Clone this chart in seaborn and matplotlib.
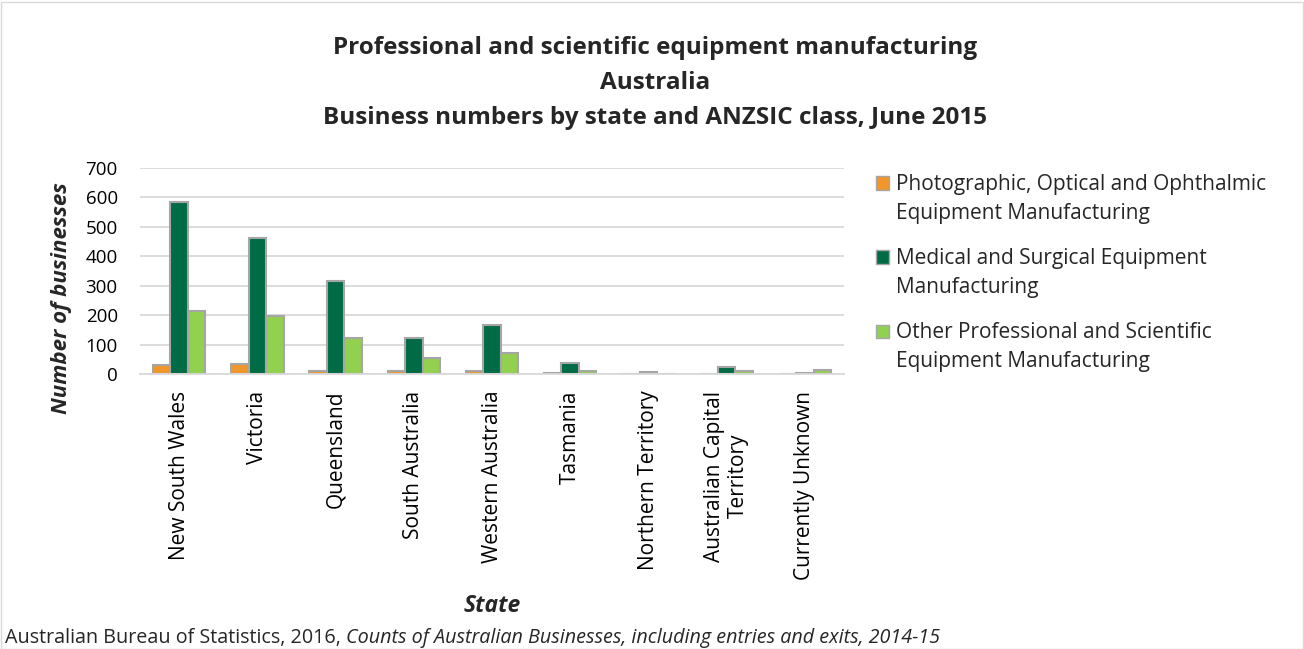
import pandas as pd
import matplotlib
matplotlib.use("Agg")
import matplotlib.pyplot as plt
import matplotlib.patches as mpatches
import seaborn as sns

states = ["New South Wales", "Victoria", "Queensland", "South Australia",
          "Western Australia", "Tasmania", "Northern Territory",
          "Australian Capital\nTerritory", "Currently Unknown"]
photographic = [32, 34, 10, 10, 11, 3, 0, 0, 0]
medical = [585, 463, 316, 123, 166, 37, 7, 23, 5]
other = [215, 196, 124, 55, 73, 9, 0, 11, 13]

series_names = ["Photographic, Optical and Ophthalmic\nEquipment Manufacturing",
                "Medical and Surgical Equipment\nManufacturing",
                "Other Professional and Scientific\nEquipment Manufacturing"]
colors = ["#F0962A", "#006C45", "#92D050"]

# long-form table for seaborn
df = pd.DataFrame({
    "State": states * 3,
    "Class": [series_names[0]] * 9 + [series_names[1]] * 9 + [series_names[2]] * 9,
    "Businesses": photographic + medical + other,
})

sns.set_style("white")
plt.rcParams["font.family"] = ["Open Sans", "DejaVu Sans"]

W, H = 1304, 649
fig = plt.figure(figsize=(W / 100, H / 100), dpi=100)
ax = fig.add_axes([140 / W, 1 - 374 / H, 704 / W, 206 / H])

sns.barplot(data=df, x="State", y="Businesses", hue="Class",
            palette=colors, width=0.67, edgecolor="#A6A6A6", linewidth=1.5,
            saturation=1, legend=False, ax=ax)

ax.set_ylim(0, 700)
ax.set_yticks(range(0, 701, 100))
ax.set_xlim(-0.5, len(states) - 0.5)
ax.yaxis.grid(True, color="#D9D9D9", linewidth=1.3)
ax.set_axisbelow(True)
for s in ["top", "right", "left"]:
    ax.spines[s].set_visible(False)
ax.spines["bottom"].set_color("#D9D9D9")
ax.spines["bottom"].set_linewidth(1.3)
ax.tick_params(axis="both", length=0, colors="black")
ax.tick_params(axis="y", pad=16, labelsize=13.5)
ax.set_xticks(range(len(states)))
ax.set_xticklabels(states, rotation=90, ha="center", va="top", fontsize=15)
ax.tick_params(axis="x", pad=12)
for lbl in ax.get_xticklabels():
    lbl.set_multialignment("center")

ax.set_xlabel("")
ax.set_ylabel("")
fig.text(492 / W, 1 - 606 / H, "State", ha="center", va="center",
         fontsize=16.5, fontweight="bold", fontstyle="italic")
fig.text(62 / W, 1 - 298 / H, "Number of businesses", ha="center", va="center",
         rotation=90, fontsize=16, fontweight="bold", fontstyle="italic")

fig.text(655 / W, 1 - 83 / H,
         "Professional and scientific equipment manufacturing\nAustralia\n"
         "Business numbers by state and ANZSIC class, June 2015",
         ha="center", va="center", fontsize=17.5, fontweight="bold", linespacing=1.6)

# legend drawn by hand so the swatch sits on the first text line, as in Excel
for i, (name, c) in enumerate(zip(series_names, colors)):
    y_line = 183 + 74 * i
    fig.patches.append(mpatches.Rectangle((876 / W, 1 - (y_line + 6.5) / H), 13 / W, 13 / H,
                                          transform=fig.transFigure, facecolor=c,
                                          edgecolor="#A6A6A6", linewidth=1))
    fig.text(896 / W, 1 - (y_line - 9) / H, name, ha="left", va="top",
             fontsize=15, linespacing=1.5)

# source line: normal part followed by italic part
t1 = fig.text(5 / W, 1 - 638 / H, "Australian Bureau of Statistics, 2016, ",
              ha="left", va="center", fontsize=14.2)
fig.canvas.draw()
bb = t1.get_window_extent()
fig.text(bb.x1 / fig.bbox.width, 1 - 638 / H,
         "Counts of Australian Businesses, including entries and exits, 2014-15",
         ha="left", va="center", fontsize=14.2, fontstyle="italic")

fig.patches.append(mpatches.Rectangle((0.5 / W, 0.5 / H), 1 - 2 / W, 1 - 2 / H,
                                      transform=fig.transFigure, fill=False,
                                      edgecolor="#D9D9D9", linewidth=1))

fig.savefig("out.png", dpi=100, facecolor="white")
